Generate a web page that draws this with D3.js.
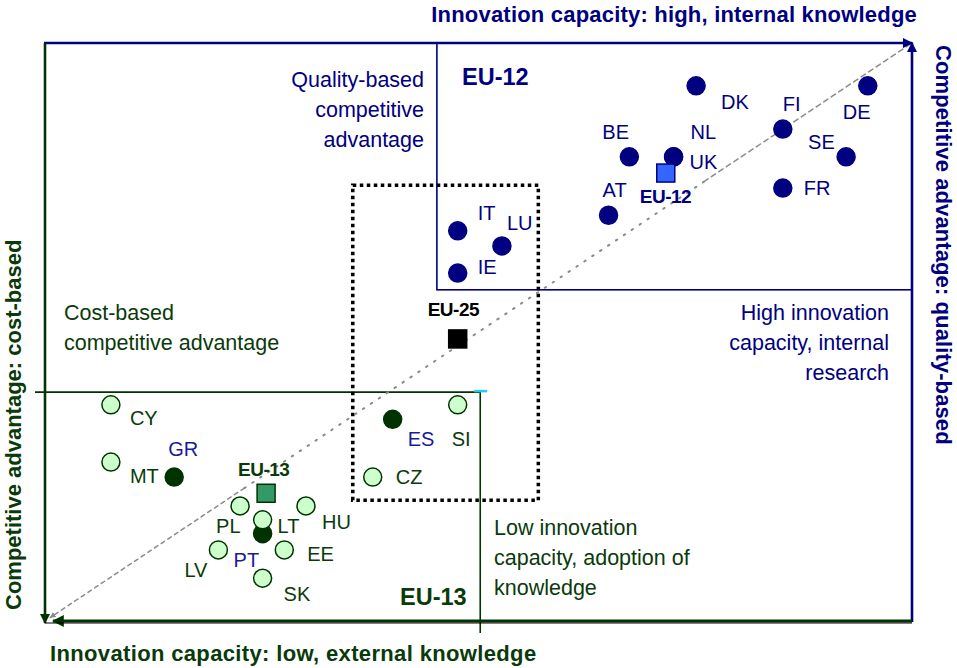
<!DOCTYPE html>
<html>
<head>
<meta charset="utf-8">
<script src="https://cdn.jsdelivr.net/npm/d3@7"></script>
<style>
  body { margin: 0; background: #fff; }
  svg { display: block; font-family: "Liberation Sans", Arial, sans-serif; }
</style>
</head>
<body>
<svg width="957" height="668"></svg>
<script>
// innovation capacity (x) vs competitive advantage (y), 0-100 index
const eu12Codes = ["DK", "DE", "FI", "BE", "NL", "UK", "SE", "FR", "AT", "IT", "LU", "IE"];
const eu12X = [75.1, 94.9, 85.1, 67.4, 72.5, 72.5, 92.4, 85.1, 65.0, 47.6, 52.7, 47.6];
const eu12Y = [92.6, 92.6, 85.1, 80.3, 80.3, 80.3, 80.3, 74.9, 70.2, 67.5, 64.9, 60.2];

const eu13Codes = ["CY", "MT", "PL", "HU", "LT", "LV", "EE", "SK", "SI", "CZ"];
const eu13X = [7.6, 7.6, 22.5, 30.1, 25.1, 20.0, 27.6, 25.1, 47.6, 37.8];
const eu13Y = [37.4, 27.5, 19.9, 19.9, 17.5, 12.3, 12.3, 7.4, 37.4, 24.9];

// EU-15 countries sitting in the low-capacity group
const southCodes = ["GR", "PT", "ES"];
const southX = [14.9, 25.1, 40.1];
const southY = [24.9, 15.1, 34.9];

const avgNames = ["EU-12", "EU-13", "EU-25"];
const avgX = [71.6, 25.5, 47.6];
const avgY = [77.5, 22.1, 48.8];

// region boxes [x0, y0, x1, y1]
const eu12Box = [45.2, 57.3, 100, 100];
const eu13Box = [0, 0, 50.2, 39.6];
const eu25Box = [35.5, 20.9, 56.9, 75.4];

// label offsets in px (layout only)
const labelShift = {
  DK: [25, 23], DE: [-25, 33], FI: [0, -18], BE: [-27, -18], NL: [17, -18], UK: [16, 12],
  SE: [-38, -8], FR: [21, 7], AT: [-6, -18], IT: [20, -11], LU: [5, -16], IE: [20, 1],
  CY: [19, 20], MT: [19, 21], PL: [-24, 27], HU: [16, 23], LT: [15, 13], LV: [-34, 27],
  EE: [23, 11], SK: [21, 23], SI: [-6, 41], CZ: [23, 7], GR: [-6, -21], PT: [-29, 33],
  ES: [15, 27], "EU-12": [-26, 30], "EU-13": [-28, -17], "EU-25": [-30, -23]
};

const navy = "#000080", green = "#0a3a0a", dark = "#003300";

const svg = d3.select("svg");
const x = d3.scaleLinear().domain([0, 100]).range([45, 912]);
const y = d3.scaleLinear().domain([0, 100]).range([621, 43]);

const defs = svg.append("defs");
function marker(id, color) {
  defs.append("marker").attr("id", id)
    .attr("viewBox", "0 0 10 10").attr("refX", 9).attr("refY", 5)
    .attr("markerWidth", 4).attr("markerHeight", 4)
    .attr("markerUnits", "strokeWidth").attr("orient", "auto")
    .append("path").attr("d", "M0,0L10,5L0,10z").attr("fill", color);
}
marker("arrBlue", navy);
marker("arrGreen", dark);
marker("arrGrey", "#888");

// region boxes
svg.append("rect")
  .attr("x", x(eu12Box[0])).attr("y", y(eu12Box[3]))
  .attr("width", x(eu12Box[2]) - x(eu12Box[0]))
  .attr("height", y(eu12Box[1]) - y(eu12Box[3]))
  .attr("fill", "none").attr("stroke", navy).attr("stroke-width", 1.6);

svg.append("line")
  .attr("x1", x(eu13Box[0]) - 10).attr("x2", x(eu13Box[2]))
  .attr("y1", y(eu13Box[3])).attr("y2", y(eu13Box[3]))
  .attr("stroke", dark).attr("stroke-width", 1.6);
svg.append("line")
  .attr("x1", x(eu13Box[2])).attr("x2", x(eu13Box[2]))
  .attr("y1", y(eu13Box[3])).attr("y2", y(eu13Box[1]) + 12)
  .attr("stroke", dark).attr("stroke-width", 1.6);
svg.append("line")
  .attr("x1", x(eu13Box[2]) - 6).attr("x2", x(eu13Box[2]) + 7)
  .attr("y1", y(eu13Box[3]) - 1).attr("y2", y(eu13Box[3]) - 1)
  .attr("stroke", "#22ccee").attr("stroke-width", 2.5);

svg.append("rect")
  .attr("x", x(eu25Box[0])).attr("y", y(eu25Box[3]))
  .attr("width", x(eu25Box[2]) - x(eu25Box[0]))
  .attr("height", y(eu25Box[1]) - y(eu25Box[3]))
  .attr("fill", "none").attr("stroke", "#000").attr("stroke-width", 3.5)
  .attr("stroke-dasharray", "3.5,3.5");

// diagonal: dashed ends, dotted middle
const diag = [[0.6, 0.6, 23, 23, "4,4", 1.5], [23, 23, 76, 76, "1.5,8", 2], [76, 76, 100, 100, "5,4", 1.5]];
diag.forEach(function (d, i) {
  const ln = svg.append("line")
    .attr("x1", x(d[i == 0 ? 2 : 0])).attr("y1", y(d[i == 0 ? 3 : 1]))
    .attr("x2", x(d[i == 0 ? 0 : 2])).attr("y2", y(d[i == 0 ? 1 : 3]))
    .attr("stroke", "#8a8a8a").attr("stroke-width", d[5])
    .attr("stroke-dasharray", d[4]).attr("stroke-linecap", "round");
  if (i == 0) ln.attr("marker-end", "url(#arrGrey)");
});

// frame arrows
svg.append("line").attr("x1", x(0) - 1).attr("x2", x(100))
  .attr("y1", y(100)).attr("y2", y(100))
  .attr("stroke", navy).attr("stroke-width", 2.6).attr("marker-end", "url(#arrBlue)");
svg.append("line").attr("x1", x(100)).attr("x2", x(100))
  .attr("y1", y(0) + 1).attr("y2", y(100))
  .attr("stroke", navy).attr("stroke-width", 2.6).attr("marker-end", "url(#arrBlue)");
svg.append("line").attr("x1", x(0)).attr("x2", x(0))
  .attr("y1", y(100)).attr("y2", y(0) + 2)
  .attr("stroke", dark).attr("stroke-width", 2.6).attr("marker-end", "url(#arrGreen)");
svg.append("line").attr("x1", x(100)).attr("x2", x(0) + 8)
  .attr("y1", y(0)).attr("y2", y(0))
  .attr("stroke", dark).attr("stroke-width", 3).attr("marker-end", "url(#arrGreen)");
svg.append("line").attr("x1", x(0)).attr("x2", x(100))
  .attr("y1", y(0) + 2).attr("y2", y(0) + 2)
  .attr("stroke", "#000").attr("stroke-width", 1);

// points
function dots(codes, xs, ys, fill, stroke) {
  svg.append("g").selectAll("circle")
    .data(codes).enter().append("circle")
    .attr("cx", (d, i) => x(xs[i])).attr("cy", (d, i) => y(ys[i]))
    .attr("r", 9).attr("fill", fill).attr("stroke", stroke).attr("stroke-width", 1.5);
}
function labels(codes, xs, ys, color, size, weight) {
  svg.append("g").selectAll("text")
    .data(codes).enter().append("text")
    .attr("x", (d, i) => x(xs[i]) + labelShift[d][0])
    .attr("y", (d, i) => y(ys[i]) + labelShift[d][1])
    .attr("fill", color).style("font-size", size + "px").style("font-weight", weight)
    .text(d => d);
}

dots(eu12Codes, eu12X, eu12Y, navy, navy);
dots(southCodes, southX, southY, dark, dark);
dots(eu13Codes, eu13X, eu13Y, "#ccffcc", dark);

labels(eu12Codes, eu12X, eu12Y, navy, 20, "normal");
labels(eu13Codes, eu13X, eu13Y, green, 20, "normal");
labels(southCodes, southX, southY, "#1a1a99", 20, "normal");

const avgFill = ["#3366ff", "#339966", "#000"];
const avgStroke = [navy, dark, "#000"];
const avgText = [navy, green, "#000"];
svg.append("g").selectAll("rect")
  .data(avgNames).enter().append("rect")
  .attr("x", (d, i) => x(avgX[i]) - 9).attr("y", (d, i) => y(avgY[i]) - 9)
  .attr("width", 18).attr("height", 18)
  .attr("fill", (d, i) => avgFill[i]).attr("stroke", (d, i) => avgStroke[i]).attr("stroke-width", 1.5);
svg.append("g").selectAll("text")
  .data(avgNames).enter().append("text")
  .attr("x", (d, i) => x(avgX[i]) + labelShift[d][0])
  .attr("y", (d, i) => y(avgY[i]) + labelShift[d][1])
  .attr("fill", (d, i) => avgText[i])
  .style("font-size", "19px").style("font-weight", "bold").style("letter-spacing", "-0.5px")
  .text(d => d);

// region captions
function block(lines, px, py, anchor, color) {
  svg.append("text").attr("text-anchor", anchor).attr("fill", color)
    .style("font-size", "21.5px")
    .selectAll("tspan").data(lines).enter().append("tspan")
    .attr("x", px).attr("y", (d, i) => py + i * 30).text(d => d);
}
block(["Quality-based", "competitive", "advantage"], 424, 87, "end", navy);
block(["Cost-based", "competitive advantage"], 64, 320, "start", green);
block(["High innovation", "capacity, internal", "research"], 889, 320, "end", navy);
block(["Low  innovation", "capacity, adoption of", "knowledge"], 494, 535, "start", green);

svg.append("text").attr("x", 462).attr("y", 85).attr("fill", navy)
  .style("font-size", "23.5px").style("font-weight", "bold").text("EU-12");
svg.append("text").attr("x", 400).attr("y", 605).attr("fill", green)
  .style("font-size", "23.5px").style("font-weight", "bold").text("EU-13");

// axis titles
svg.append("text").attr("x", 917).attr("y", 22).attr("text-anchor", "end")
  .attr("fill", navy).style("font-size", "22px").style("font-weight", "bold")
  .style("letter-spacing", "0.2px")
  .text("Innovation capacity: high, internal knowledge");
svg.append("text").attr("x", 50).attr("y", 661)
  .attr("fill", green).style("font-size", "22px").style("font-weight", "bold")
  .style("letter-spacing", "0.35px")
  .text("Innovation capacity: low, external knowledge");
svg.append("text").attr("transform", "translate(21,610) rotate(-90)")
  .attr("fill", green).style("font-size", "22px").style("font-weight", "bold")
  .text("Competitive advantage: cost-based");
svg.append("text").attr("transform", "translate(936,45) rotate(90)")
  .attr("fill", navy).style("font-size", "22px").style("font-weight", "bold")
  .style("letter-spacing", "0.1px")
  .text("Competitive advantage: quality-based");
</script>
</body>
</html>
